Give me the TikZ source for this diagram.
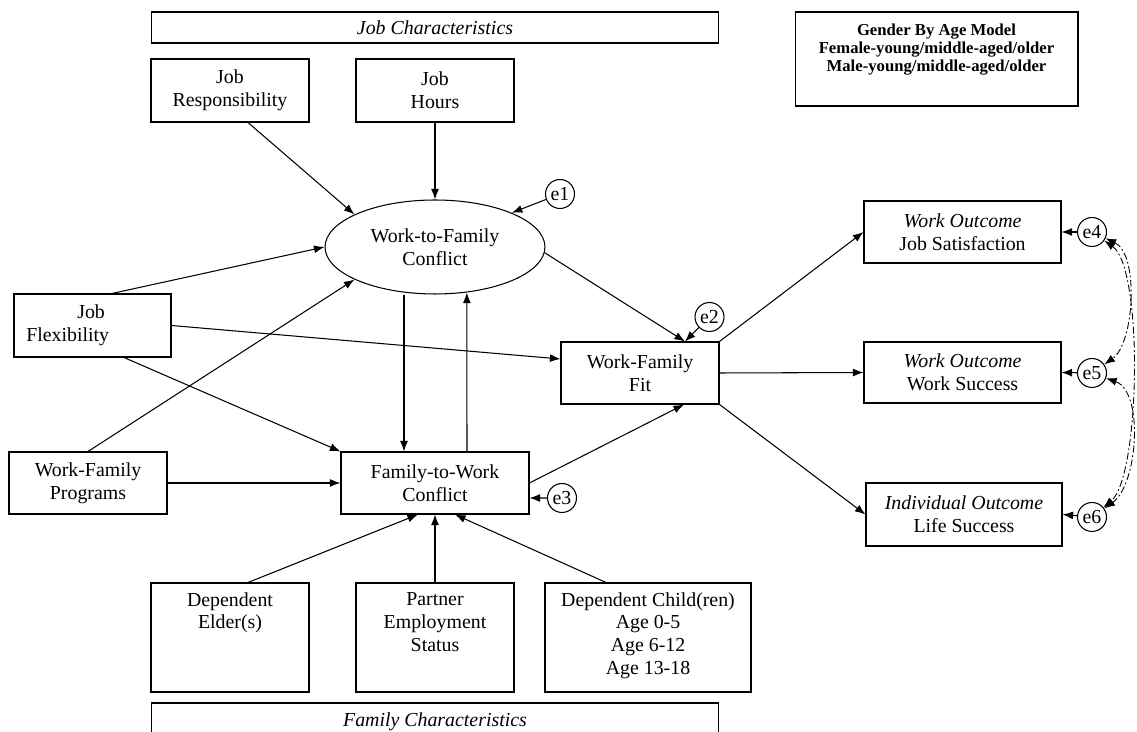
\documentclass[tikz,border=0pt]{standalone}
\usepackage{fontspec}
\setmainfont{Liberation Serif}
\usetikzlibrary{shapes.geometric,arrows.meta}
\begin{document}
\begin{tikzpicture}[x=0.02cm,y=-0.02cm,
  font=\fontsize{11.3}{13}\selectfont,
  box/.style={draw, line width=0.6pt, inner sep=0pt, align=center},
  txt/.style={inner sep=0pt, align=center},
  arr/.style={line width=0.6pt, -{Latex[length=6pt,width=4.5pt]}},
  err/.style={draw, circle, line width=0.6pt, minimum size=0.58cm, inner sep=0pt},
  cov/.style={line width=0.5pt, {Latex[length=6pt,width=4.5pt]}-{Latex[length=6pt,width=4.5pt]}, dash pattern=on 4pt off 1.5pt on 1pt off 1.5pt}]
\clip (0,0) rectangle (1137,732);
\fill[white] (0,0) rectangle (1137,732);
% top
\node[box, minimum width=11.36cm, minimum height=0.62cm] (jobchar) at (435,27.5) {\itshape Job Characteristics};
\node[box, minimum width=3.16cm, minimum height=1.26cm] (jr) at (230,90.5) {Job\\Responsibility};
\node[box, minimum width=3.16cm, minimum height=1.26cm] (jh) at (435,90.5) {Job\\Hours};
\node[draw, ellipse, line width=0.6pt, minimum width=4.4cm, minimum height=1.88cm, inner sep=0pt, align=center] (wtf) at (435,247) {Work-to-Family\\Conflict};
\node[err] (e1) at (560,194) {e1};
% left
\node[box, minimum width=3.14cm, minimum height=1.26cm] (jf) at (92.5,325.5) {};
\node[inner sep=0pt, anchor=west, align=left] (jft) at (26,325.5) {\hspace*{29pt}Job\\Flexibility};
\node[box, minimum width=3.16cm, minimum height=1.24cm] (wfp) at (88,483) {Work-Family\\Programs};
\node[box, minimum width=3.76cm, minimum height=1.24cm] (ftw) at (435,483) {Family-to-Work\\Conflict};
\node[box, minimum width=3.16cm, minimum height=1.24cm] (fit) at (640,373) {Work-Family\\Fit};
\node[err] (e2) at (709.5,317) {e2};
\node[err] (e3) at (562,498) {e3};
% bottom
\node[box, minimum width=3.16cm, minimum height=2.18cm] (elder) at (230,637.5) {};
\node[txt, anchor=north] (eldert) at (230,592) {Dependent\\Elder(s)};
\node[box, minimum width=3.16cm, minimum height=2.18cm] (partner) at (435,637.5) {};
\node[txt, anchor=north] (partnert) at (435,592) {Partner\\Employment\\Status};
\node[box, minimum width=4.12cm, minimum height=2.18cm] (child) at (648,637.5) {};
\node[txt, anchor=north] (childt) at (648,592) {Dependent Child(ren)\\Age 0-5\\Age 6-12\\Age 13-18};
\node[box, minimum width=11.36cm, minimum height=0.76cm] (famchar) at (435,722) {\itshape Family Characteristics};
% right
\node[box, minimum width=5.66cm, minimum height=1.88cm] (gender) at (936.5,59) {};
\node[txt, font=\fontsize{9.5}{10.3}\selectfont\bfseries] (gendert) at (936.5,49.5) {Gender By Age Model\\Female-young/middle-aged/older\\Male-young/middle-aged/older};
\node[box, minimum width=3.94cm, minimum height=1.24cm] (jobsat) at (962.5,232) {\textit{Work Outcome}\\Job Satisfaction};
\node[box, minimum width=3.94cm, minimum height=1.22cm] (ws) at (962.5,372.5) {\textit{Work Outcome}\\Work Success};
\node[box, minimum width=3.92cm, minimum height=1.26cm] (life) at (964,514.5) {\textit{Individual Outcome}\\Life Success};
\node[err] (e4) at (1092,232) {e4};
\node[err] (e5) at (1092,373) {e5};
\node[err] (e6) at (1092,517) {e6};
% connectors
\coordinate (fitTop) at ([xshift=0.9cm]fit.north);
\draw[arr] ([xshift=0.36cm]jr.south) -- (wtf.158);
\draw[arr] (jh.south) -- (wtf.north);
\draw[arr] (e1) -- (wtf.24);
\draw[arr] ([xshift=0.39cm]jf.north) -- (wtf.west);
\draw[arr] (wfp.north) -- (wtf.202);
\draw[arr] (jf.east) -- ([yshift=0.28cm]fit.west);
\draw[arr] ([xshift=0.63cm]jf.south) -- (ftw.north west);
\draw[arr] ([xshift=-0.62cm]wtf.south) -- ([xshift=-0.62cm]ftw.north);
\draw[arr] ([xshift=0.64cm]ftw.north) -- (wtf.-55);
\draw[arr] (wtf.-3) -- (fitTop);
\draw[arr] (e2) -- (fitTop);
\draw[arr] (ftw.east) -- ([xshift=0.88cm]fit.south);
\draw[arr] (wfp.east) -- (ftw.west);
\draw[arr] (e3) -- ([yshift=-0.3cm]ftw.east);
\draw[arr] ([xshift=0.36cm]elder.north) -- ([xshift=-0.34cm]ftw.south);
\draw[arr] (partner.north) -- (ftw.south);
\draw[arr] ([xshift=-0.84cm]child.north) -- ([xshift=0.4cm]ftw.south);
\draw[arr] (fit.north east) -- (jobsat.west);
\draw[arr] (fit.east) -- (ws.west);
\draw[arr] (fit.south east) -- (life.west);
\draw[arr] (e4) -- (jobsat.east);
\draw[arr] (e5) -- (ws.east);
\draw[arr] (e6) -- (life.east);
\draw[cov] (e4) to[out=-25,in=35,looseness=0.75] (e5);
\draw[cov] (e4) to[out=-35,in=40,looseness=0.46] (e6);
\draw[cov] (e5) to[out=-20,in=35,looseness=0.8] (e6);
\end{tikzpicture}
\end{document}
